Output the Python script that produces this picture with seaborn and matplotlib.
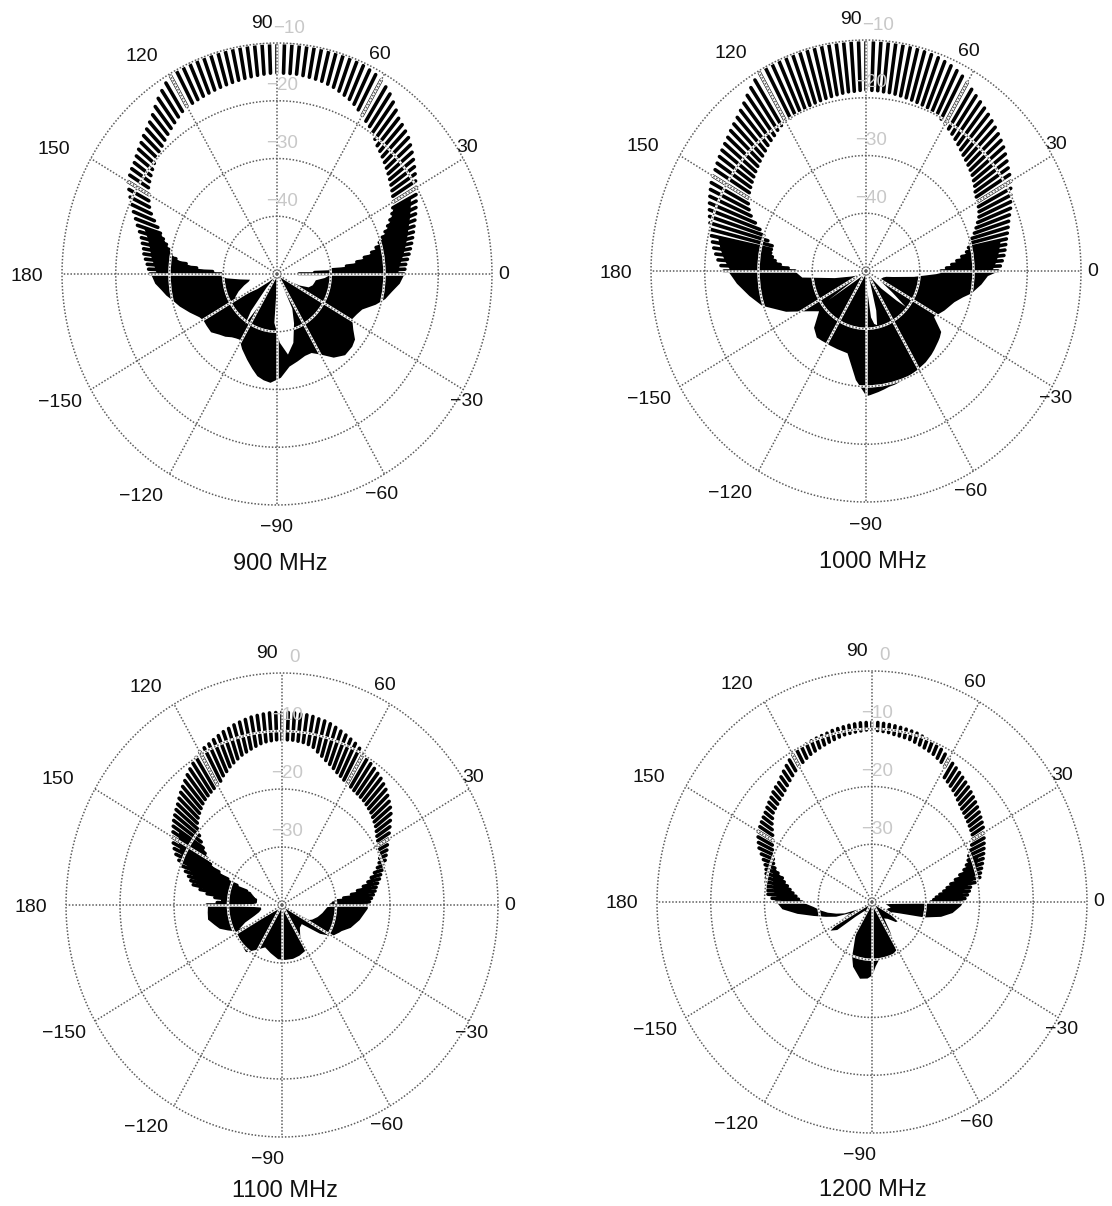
import numpy as np
import pandas as pd
import matplotlib
matplotlib.use('Agg')
import matplotlib.pyplot as plt
import seaborn as sns

# Radiation patterns, all values in dB
captions = ['900 MHz', '1000 MHz', '1100 MHz', '1200 MHz']
tick_deg = [0, 30, 60, 90, 120, 150, 180, 210, 240, 270, 300, 330]
tick_labels = ['0', '30', '60', '90', '120', '150', '180',
               '\u2212150', '\u2212120', '\u221290', '\u221260', '\u221230']
rings_upper = [-40, -30, -20, -10]
rings_lower = [-30, -20, -10, 0]
ring_labels_upper = ['\u221240', '\u221230', '\u221220', '\u221210']
ring_labels_lower = ['\u221230', '\u221220', '\u221210', '0']

# upper half: one tooth every 2 degrees, 0 to 180
comb_deg = list(range(0, 181, 2))

outer_900 = [-26.4, -26.2, -26.0, -25.6, -25.2, -24.8, -24.4, -24.0, -23.6, -23.2,
             -22.7, -22.2, -21.7, -21.2, -20.7, -20.2, -19.6, -19.0, -18.4, -17.8,
             -17.2, -16.6, -16.0, -15.6, -15.2, -14.8, -14.0, -13.2, -12.4, -11.8,
             -11.2, -10.9, -10.7, -10.5, -10.4, -10.3, -10.3, -10.2, -10.2, -10.2,
             -10.2, -10.2, -10.2, -10.2, -10.2, -10.2, -10.2, -10.2, -10.2, -10.2,
             -10.2, -10.2, -10.2, -10.2, -10.2, -10.2, -10.2, -10.2, -10.3, -10.3,
             -10.4, -11.0, -11.7, -12.4, -13.2, -14.0, -14.6, -15.1, -15.5, -16.0,
             -16.4, -16.8, -17.2, -17.4, -17.7, -18.0, -18.8, -19.6, -20.4, -21.2,
             -22.0, -22.7, -23.4, -24.0, -24.4, -24.8, -25.0, -25.4, -25.8, -26.1,
             -26.4]
inner_900 = [-46.0, -43.0, -40.0, -37.0, -35.0, -33.5, -32.0, -31.0, -30.2, -29.4,
             -28.6, -27.8, -27.0, -26.2, -25.6, -25.0, -24.6, -24.2, -23.8, -23.4,
             -23.0, -22.6, -22.2, -21.8, -21.4, -21.0, -20.4, -19.8, -19.2, -18.8,
             -18.3, -17.8, -17.3, -16.9, -16.6, -16.3, -16.0, -15.8, -15.6, -15.5,
             -15.4, -15.3, -15.2, -15.2, -15.2, -15.2, -15.2, -15.3, -15.4, -15.5,
             -15.6, -15.7, -15.8, -15.9, -16.0, -16.1, -16.2, -16.3, -16.4, -16.5,
             -16.5, -16.8, -17.2, -17.6, -18.0, -18.4, -18.8, -19.2, -19.5, -19.9,
             -20.2, -20.6, -21.0, -21.4, -21.8, -22.5, -23.0, -23.6, -24.4, -25.4,
             -26.4, -27.2, -28.0, -28.8, -29.4, -30.0, -31.0, -33.0, -35.0, -38.0,
             -40.0]
outer_1000 = [-25.5, -25.0, -24.6, -24.2, -23.9, -23.6, -23.3, -22.9, -22.5, -22.1,
              -21.6, -21.0, -20.5, -20.0, -19.5, -18.9, -18.5, -18.1, -17.6, -17.1,
              -16.6, -16.2, -15.8, -15.4, -15.0, -14.6, -14.2, -13.8, -13.4, -12.9,
              -12.3, -11.8, -11.4, -11.1, -10.9, -10.7, -10.6, -10.5, -10.4, -10.4,
              -10.3, -10.3, -10.3, -10.3, -10.3, -10.3, -10.3, -10.3, -10.3, -10.3,
              -10.2, -10.2, -10.2, -10.1, -10.1, -10.1, -10.1, -10.1, -10.0, -10.0,
              -10.3, -11.0, -11.7, -12.4, -13.1, -13.7, -14.2, -14.6, -15.0, -15.4,
              -15.7, -16.0, -16.3, -16.6, -16.9, -17.1, -17.4, -17.8, -18.2, -18.6,
              -19.0, -19.4, -19.8, -20.2, -20.6, -21.0, -21.4, -21.9, -22.4, -23.0,
              -23.6]
inner_1000 = [-36.0, -35.0, -34.0, -33.0, -32.0, -31.0, -30.5, -30.0, -29.5, -28.8,
              -28.2, -27.6, -27.0, -26.6, -26.3, -26.0, -25.8, -25.5, -25.0, -24.6,
              -24.2, -23.9, -23.6, -23.3, -23.0, -22.6, -22.2, -21.8, -21.4, -21.0,
              -20.6, -20.2, -19.9, -19.7, -19.5, -19.4, -19.3, -19.2, -19.1, -19.0,
              -18.9, -18.8, -18.8, -18.7, -18.7, -18.7, -18.7, -18.8, -18.8, -18.9,
              -19.0, -19.1, -19.2, -19.3, -19.4, -19.5, -19.6, -19.7, -19.8, -20.0,
              -20.0, -20.3, -20.6, -21.0, -21.3, -21.6, -22.0, -22.3, -22.6, -22.9,
              -23.2, -23.5, -23.8, -24.1, -24.4, -24.8, -25.2, -25.8, -26.6, -27.8,
              -29.0, -30.0, -31.0, -32.0, -32.0, -32.0, -32.4, -33.0, -34.0, -35.5,
              -36.7]
outer_1100 = [-24.2, -23.8, -23.4, -23.0, -22.6, -22.3, -21.9, -21.4, -21.0, -20.5,
              -20.0, -19.4, -18.9, -18.4, -17.9, -17.2, -16.6, -15.9, -15.2, -14.4,
              -13.8, -13.3, -12.8, -12.3, -11.9, -11.5, -11.2, -10.9, -10.6, -10.3,
              -9.8, -9.4, -9.0, -8.7, -8.4, -8.1, -7.8, -7.5, -7.3, -7.2,
              -7.0, -6.9, -6.9, -6.8, -6.8, -6.8, -6.8, -6.8, -6.9, -7.0,
              -7.1, -7.3, -7.5, -7.7, -8.0, -8.2, -8.5, -8.8, -9.1, -9.3,
              -9.5, -10.0, -10.5, -11.0, -11.5, -12.0, -12.5, -13.0, -13.5, -14.0,
              -14.4, -14.8, -15.2, -15.7, -16.2, -16.6, -17.2, -17.8, -18.5, -19.4,
              -20.3, -21.2, -22.0, -22.6, -23.2, -24.6, -26.0, -27.5, -29.0, -28.0,
              -26.2]
inner_1100 = [-31.0, -30.5, -30.0, -28.5, -27.0, -25.8, -24.6, -23.6, -22.8, -22.0,
              -21.2, -20.6, -20.2, -19.9, -19.6, -19.4, -19.1, -18.8, -18.4, -18.0,
              -17.7, -17.4, -17.1, -16.9, -16.7, -16.5, -16.4, -16.3, -16.2, -16.0,
              -15.8, -15.6, -15.3, -15.0, -14.6, -14.2, -13.8, -13.3, -12.8, -12.2,
              -11.9, -11.7, -11.6, -11.5, -11.5, -11.5, -11.5, -11.6, -11.7, -11.9,
              -12.2, -12.5, -12.8, -13.1, -13.5, -13.9, -14.3, -14.8, -15.2, -15.8,
              -16.1, -16.3, -16.5, -16.7, -16.9, -17.2, -17.6, -18.0, -18.4, -18.9,
              -19.8, -20.6, -21.5, -22.4, -23.2, -24.0, -25.0, -27.0, -29.0, -31.0,
              -33.0, -33.7, -34.0, -34.3, -34.6, -35.0, -35.0, -35.0, -34.5, -33.0,
              -31.0]
outer_1200 = [-23.2, -22.7, -22.2, -21.8, -21.5, -20.5, -19.5, -19.2, -18.8, -18.4,
              -18.0, -17.6, -17.2, -16.8, -16.4, -16.0, -15.6, -15.3, -15.0, -14.7,
              -14.4, -14.1, -13.8, -13.5, -13.2, -12.9, -12.6, -12.3, -12.0, -11.7,
              -11.3, -11.0, -10.6, -10.4, -10.2, -10.0, -9.8, -9.6, -9.5, -9.4,
              -9.3, -9.2, -9.1, -9.0, -8.9, -8.9, -8.9, -8.9, -9.0, -9.1,
              -9.2, -9.3, -9.4, -9.6, -9.7, -9.8, -9.9, -10.0, -10.2, -10.3,
              -10.5, -11.0, -11.5, -12.0, -12.5, -13.0, -13.2, -13.5, -13.9, -14.2,
              -14.5, -14.8, -15.0, -15.2, -15.4, -15.5, -16.0, -16.5, -17.0, -17.8,
              -18.5, -19.1, -19.5, -19.7, -19.9, -20.0, -20.2, -20.4, -20.6, -21.4,
              -22.2]
inner_1200 = [-29.0, -28.5, -28.0, -27.3, -26.5, -25.8, -25.0, -24.0, -23.0, -22.0,
              -21.3, -20.7, -20.3, -19.7, -19.0, -18.4, -18.0, -17.8, -17.6, -17.4,
              -17.2, -17.0, -16.8, -16.5, -16.2, -15.8, -15.5, -15.2, -14.9, -14.6,
              -13.0, -12.6, -12.3, -12.0, -11.8, -11.6, -11.4, -11.2, -11.0, -10.9,
              -10.8, -10.7, -10.5, -10.4, -10.3, -10.2, -10.2, -10.3, -10.4, -10.5,
              -10.6, -10.8, -11.0, -11.2, -11.4, -11.6, -11.8, -12.0, -12.3, -12.6,
              -12.8, -13.2, -13.6, -14.0, -14.4, -14.8, -15.1, -15.3, -15.6, -15.8,
              -16.0, -16.5, -17.0, -17.6, -18.2, -18.7, -19.0, -19.4, -19.8, -20.2,
              -20.5, -21.0, -21.8, -22.8, -23.3, -24.0, -24.6, -25.2, -25.8, -26.3,
              -27.0]

# lower half: solid lobes, outline read at uneven angles
lobe_deg_900 = [180, 184, 187, 190, 193, 197, 202, 207, 210, 214, 219, 224, 228, 232, 235, 238, 243,
                249, 254, 258, 262, 266, 272, 278, 284, 290, 295, 300, 306, 312, 318, 322, 326, 331,
                335, 339, 344, 348, 352, 356, 360]
lobe_outer_900 = [-26.5, -27.2, -28.2, -29, -30, -31, -32.4, -33.7, -34.1, -34.1, -34.1, -35, -35.5, -36.2,
                  -36.5, -36.7, -35.5, -34.2, -33, -32, -31.5, -31.2, -32.1, -33.9, -34.5, -35, -35, -34,
                  -32.2, -31.2, -31.3, -31.7, -33, -34.1, -33.7, -33.1, -31, -29.5, -28.5, -27.2, -26.4]
lobe_inner_900 = [-38.7, -40.5, -43, -44.8, -44.5, -43.5, -42.2, -41.1, -43, -45.5, -48, -49.5, -47, -42,
                  -39.5, -44, -49, -50, -50, -50, -50, -41.6, -38.2, -36, -37.8, -41, -43.5, -49.5, -50,
                  -50, -50, -50, -49.5, -48, -45.5, -43.8, -43.2, -43, -42.8, -41.2, -40]

lobe_deg_1000 = [180, 185, 191, 197, 205, 212, 215, 218, 225, 231, 235, 239, 242, 248, 256, 264, 270, 272, 276,
                 279, 282, 285, 290, 299, 305, 310, 313, 318, 320, 323, 328, 335, 342, 346, 349, 354, 358, 360]
lobe_outer_1000 = [-24.3, -25.8, -27.8, -29.7, -33.5, -37, -38, -38.8, -36.2, -35.3, -35.4, -35.5, -35.5, -35.5,
                   -35.4, -31.1, -28.4, -28.6, -29, -29.3, -29.6, -29.7, -30, -30.5, -30.8, -31.2, -31.5, -32,
                   -32.2, -32.6, -35.2, -34, -32.8, -31.5, -30.1, -28.5, -27.4, -25.5]
lobe_inner_1000 = [-36.7, -38, -44, -47, -48.5, -48, -41.4, -47, -49, -48.8, -48.5, -41.3, -47, -50, -50, -50,
                   -50, -47, -42, -40.8, -40.5, -43, -48, -50, -50, -48, -46, -42.5, -40.5, -44, -47, -47,
                   -46.7, -46.2, -45, -41.1, -37, -35]

lobe_deg_1100 = [180, 185, 190, 195, 199, 203, 207, 212, 216, 221, 226, 230, 238, 246, 255, 265, 273, 282, 290,
                 298, 302, 310, 318, 325, 330, 333, 336, 338, 343, 350, 358, 360]
lobe_outer_1100 = [-26.2, -26.1, -26, -27, -27.7, -29, -30.2, -30.3, -30.2, -30, -29.7, -29.5, -31, -32.1, -31.5,
                   -30.7, -30.6, -30.6, -30.8, -31.1, -33.8, -35, -35.2, -31.5, -29.4, -29, -28.5, -28.2,
                   -26.8, -25.5, -24.2, -24.2]
lobe_inner_1100 = [-31, -36, -36, -35.5, -34.5, -32.5, -31, -37, -38.5, -39, -40, -40, -40, -40, -40, -40, -40,
                   -40, -40, -40, -40, -40, -40, -40, -39.5, -34.5, -34, -33.8, -33.2, -32.5, -31.7, -30.2]

lobe_deg_1200 = [180, 184, 188, 192, 196, 200, 204, 208, 212, 216, 218, 225, 235, 240, 248, 252, 260, 266, 270,
                 273, 277, 284, 290, 298, 303, 308, 315, 322, 325, 328, 335, 340, 345, 349, 353, 358, 360]
lobe_outer_1200 = [-22.2, -23.2, -25.9, -28.8, -31, -32.8, -35.5, -33, -30.8, -31.9, -36, -38, -37.5, -33.8,
                   -29.9, -28.3, -26.6, -26.8, -27.4, -28.9, -30, -30, -30, -30.6, -34, -36.5, -36, -34.5,
                   -34.3, -36, -36, -34.4, -30, -27, -25, -23.5, -23.2]
lobe_inner_1200 = [-27, -29, -30.2, -31.5, -33, -34.5, -37, -39, -40, -40, -40, -40, -40, -40, -40, -40, -40,
                   -40, -40, -40, -40, -40, -40, -40, -40, -40, -40, -40, -40, -40, -37, -37, -36.5, -37,
                   -37.5, -35, -29]

sns.set_theme(style='white')
plt.rcParams['font.family'] = ['Liberation Sans', 'DejaVu Sans']

W, H = 1112, 1206
fig = plt.figure(figsize=(W / 100, H / 100), dpi=100, facecolor='white')

# label offsets from the rim in pixels, same order as tick_deg
tick_offsets = [(12, 0), (4, 11), (-5, 19), (-15, 20), (-28, 17), (-37, 9),
                (-35, -2), (-31, -13), (-28, -22), (0, -23), (-3, -20), (3, -12)]

panels = [
    dict(cx=277, cy=274, rx=215, ry=231, lim=(-50, -10), rings=rings_upper, ring_labels=ring_labels_upper,
         outer=outer_900, inner=inner_900, lobe=(lobe_deg_900, lobe_outer_900, lobe_inner_900),
         solid=[(0, 28), (162, 180)], cap=(280, 564), low90=0),
    dict(cx=866, cy=271, rx=215, ry=231, lim=(-50, -10), rings=rings_upper, ring_labels=ring_labels_upper,
         outer=outer_1000, inner=inner_1000, lobe=(lobe_deg_1000, lobe_outer_1000, lobe_inner_1000),
         solid=[(0, 12), (168, 180)], cap=(873, 562), low90=0),
    dict(cx=282, cy=905, rx=216, ry=232, lim=(-40, 0), rings=rings_lower, ring_labels=ring_labels_lower,
         outer=outer_1100, inner=inner_1100, lobe=(lobe_deg_1100, lobe_outer_1100, lobe_inner_1100),
         solid=[(0, 24), (146, 180)], cap=(285, 1191), low90=-14),
    dict(cx=872, cy=902, rx=215, ry=231, lim=(-40, 0), rings=rings_lower, ring_labels=ring_labels_lower,
         outer=outer_1200, inner=inner_1200, lobe=(lobe_deg_1200, lobe_outer_1200, lobe_inner_1200),
         solid=[(0, 22), (162, 180)], cap=(873, 1190), low90=-13),
]

grid_color = '#5c5c5c'
circle = np.linspace(0, 2 * np.pi, 361)

for p, caption in zip(panels, captions):
    ax = fig.add_axes([(p['cx'] - p['rx']) / W, 1 - (p['cy'] + p['ry']) / H, 2 * p['rx'] / W, 2 * p['ry'] / H],
                      projection='polar')
    ax.set_aspect('auto')
    ax.set_facecolor('white')
    floor, top = p['lim']

    # solid lobes below the horizon
    lobe_deg, lobe_outer, lobe_inner = p['lobe']
    ax.fill_between(np.deg2rad(lobe_deg), lobe_inner, lobe_outer, color='black', lw=0, zorder=1)

    # solid part of the main lobe, teeth stick out of it
    deg = np.array(comb_deg)
    outer = np.array(p['outer'])
    inner = np.array(p['inner'])
    for lo, hi in p['solid']:
        keep = (deg >= lo) & (deg <= hi)
        ax.fill_between(np.deg2rad(deg[keep]), inner[keep], outer[keep] - 1.2, color='black', lw=0, zorder=1)

    # teeth, two points per tooth
    comb = pd.DataFrame({
        'theta': np.deg2rad(np.concatenate([deg, deg])),
        'db': np.concatenate([inner, outer]),
        'tooth': np.concatenate([deg, deg]),
    })
    sns.lineplot(data=comb, x='theta', y='db', units='tooth', estimator=None, sort=False,
                 color='black', lw=2.6, legend=False, ax=ax, zorder=1.5)
    ax.set_xlabel('')
    ax.set_ylabel('')

    ax.set_ylim(floor, top)
    ax.set_xticks(np.deg2rad(tick_deg))
    ax.set_xticklabels([])
    ax.set_yticks(p['rings'])
    ax.set_yticklabels([])
    ax.spines['polar'].set_visible(False)

    # white halo where the grid crosses black, dotted grid on top
    ax.set_axisbelow(False)
    ax.grid(True, color='white', lw=1.8, ls='-')
    for d in tick_deg:
        ax.plot([np.deg2rad(d)] * 2, [floor, top], color=grid_color, lw=1.1, dashes=(1, 1.2), zorder=3)
    for ring in p['rings']:
        ax.plot(circle, [ring] * len(circle), color=grid_color, lw=1.1, dashes=(1, 1.2), zorder=3, clip_on=False)

    for d, label, off in zip(tick_deg, tick_labels, tick_offsets):
        dx = off[0] + p['low90'] if d == 270 else off[0]
        ax.annotate(label, xy=(np.deg2rad(d), top), xytext=(dx, off[1]), textcoords='offset pixels',
                    ha='center', va='center', fontsize=14, color='#111111', annotation_clip=False)
    for ring, label in zip(p['rings'], p['ring_labels']):
        # top ring label sits right of the 90 label
        dx = 12 if ring == top else 5
        ax.annotate(label, xy=(np.pi / 2, ring), xytext=(dx, 15), textcoords='offset pixels',
                    ha='center', va='center', fontsize=13.5, color='#c8c8c8', annotation_clip=False, zorder=4)

    fig.text(p['cap'][0] / W, 1 - p['cap'][1] / H, caption, ha='center', va='center', fontsize=17, color='#111111')

fig.savefig('out.png', dpi=100, facecolor='white')
